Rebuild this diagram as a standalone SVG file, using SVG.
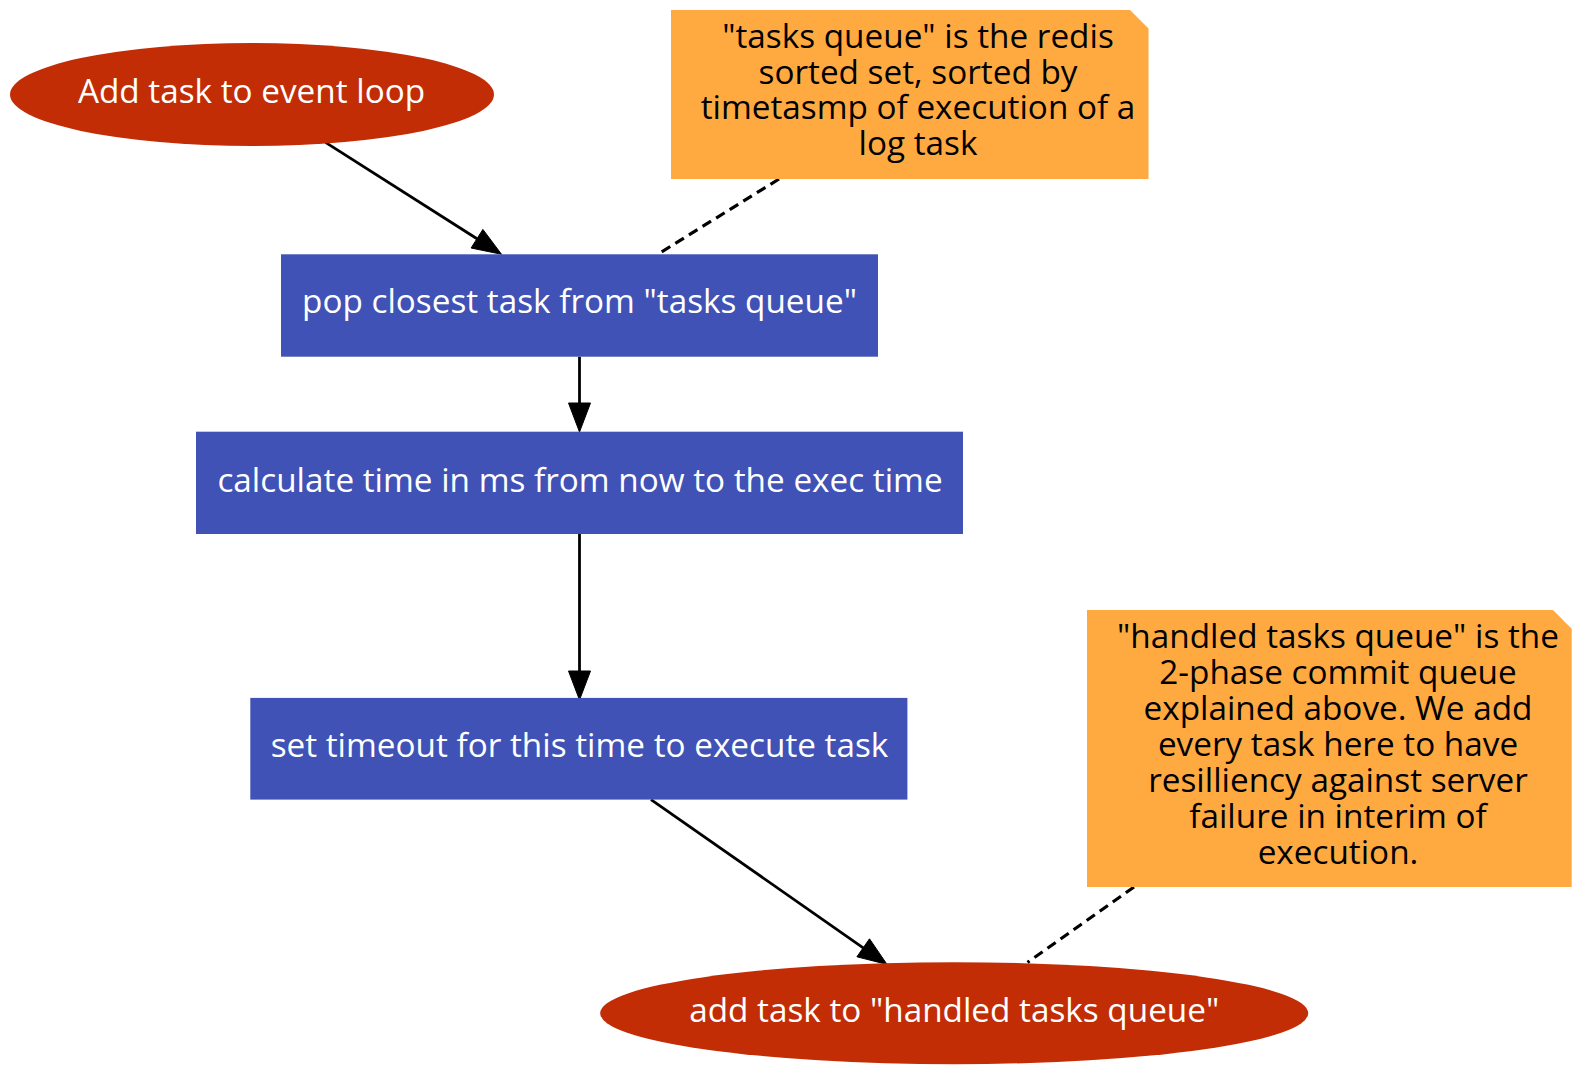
<svg xmlns="http://www.w3.org/2000/svg" width="1594" height="1089" viewBox="0 0 1594 1089">
<style>
text{font-family:"Open Sans","Noto Sans","DejaVu Sans",sans-serif;font-size:33.3px;text-anchor:middle}
.w{fill:#ffffff}
.k{fill:#000000}
.ell{fill:#c22d06}
.box{fill:#4052b5}
.note{fill:#ffaa40}
.e{stroke:#000;stroke-width:2.8;fill:none}
.d{stroke:#000;stroke-width:3.2;fill:none;stroke-dasharray:10,6}
.h{fill:#000;stroke:#000;stroke-width:1}
</style>
<rect width="1594" height="1089" fill="#fff"/>
<g id="connectors">
<path class="e" d="M325.5,142.4 L477,238.7"/>
<path class="h" d="M501.5,254.3 L471.1,248.0 L482.9,229.4 z"/>
<path class="e" d="M579.5,356.7 L579.5,403"/>
<path class="h" d="M579.5,432 L568.5,403 L590.5,403 z"/>
<path class="e" d="M579.5,534 L579.5,671"/>
<path class="h" d="M579.5,700 L568.5,671 L590.5,671 z"/>
<path class="e" d="M651,799.6 L863.2,947.8"/>
<path class="h" d="M887,964.4 L856.9,956.8 L869.5,938.8 z"/>
<path class="d" d="M779,179 L657.7,254.3"/>
<path class="d" d="M1134,887 L1027.5,962.4"/>
</g>
<g id="n_add_event">
<ellipse class="ell" cx="252" cy="94.5" rx="242" ry="51.5"/>
<text class="w" x="251.5" y="103">Add task to event loop</text>
</g>
<g id="n_pop">
<rect class="box" x="281" y="254.3" width="597" height="102.4"/>
<text class="w" x="579.5" y="313">pop closest task from "tasks queue"</text>
</g>
<g id="n_calc">
<rect class="box" x="196" y="431.7" width="767" height="102.3"/>
<text class="w" x="580" y="491.5">calculate time in ms from now to the exec time</text>
</g>
<g id="n_timeout">
<rect class="box" x="250.3" y="697.9" width="657.1" height="101.7"/>
<text class="w" x="579.5" y="757">set timeout for this time to execute task</text>
</g>
<g id="n_add_handled">
<ellipse class="ell" cx="954.2" cy="1013.2" rx="354" ry="51"/>
<text class="w" x="954.2" y="1022">add task to "handled tasks queue"</text>
</g>
<g id="note_tasks">
<path class="note" d="M671,10 L1130,10 L1148.5,28.5 L1148.5,179 L671,179 z"/>
<text class="k" x="918" y="48.3">"tasks queue" is the redis</text>
<text class="k" x="918" y="83.8">sorted set, sorted by</text>
<text class="k" x="918" y="119.3">timetasmp of execution of a</text>
<text class="k" x="918" y="154.8">log task</text>
</g>
<g id="note_handled">
<path class="note" d="M1087,610 L1553,610 L1571.7,628.7 L1571.7,887 L1087,887 z"/>
<text class="k" x="1338" y="648">"handled tasks queue" is the</text>
<text class="k" x="1338" y="684">2-phase commit queue</text>
<text class="k" x="1338" y="720">explained above. We add</text>
<text class="k" x="1338" y="756">every task here to have</text>
<text class="k" x="1338" y="792">resilliency against server</text>
<text class="k" x="1338" y="828">failure in interim of</text>
<text class="k" x="1338" y="864">execution.</text>
</g>
</svg>
